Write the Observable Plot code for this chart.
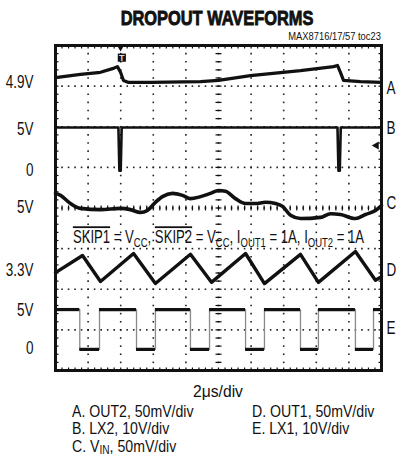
<!DOCTYPE html>
<html><head><meta charset="utf-8">
<script src="https://cdn.jsdelivr.net/npm/d3@7"></script>
<script src="https://cdn.jsdelivr.net/npm/@observablehq/plot@0.6"></script>
<style>
body{margin:0;background:#fff;font-family:"Liberation Sans",Arial,sans-serif;color:#111;}
#wrap{position:relative;width:402px;height:470px;overflow:hidden;background:#fff}
#chart{position:absolute;left:0;top:0}
.t{position:absolute;white-space:nowrap;line-height:1}
.sub{font-size:0.72em;position:relative;top:0.22em;line-height:0}
</style></head><body>
<div id="wrap">
  <div id="chart"></div>
  <div class="t" id="title" style="left:217px;top:7px;font-size:21px;font-weight:bold;transform:translateX(-50%) scaleX(0.78);-webkit-text-stroke:0.9px #111">DROPOUT WAVEFORMS</div>
  <div class="t" id="toc" style="right:21px;top:30.5px;font-size:11px;transform:scaleX(0.85);transform-origin:right center">MAX8716/17/57 toc23</div>
  <div class="t" id="xdiv" style="left:218px;top:382.5px;font-size:17px;transform:translateX(-50%) scaleX(0.92)">2μs/div</div>
  <div id="legend"></div>
</div>
<script>
// ---------- data (time in μs, level in screen divisions from bottom) ----------
const timeA = [0,1.53,2.76,3.50,3.80,3.99,4.17,4.48,5.83,8.90,10.0,11.96,15.03,17.06,17.30,17.48,17.67,18.71,20];
const levelA = [7.21,7.29,7.34,7.43,7.48,7.34,7.14,7.09,7.09,7.11,7.14,7.26,7.38,7.48,7.51,7.34,7.14,7.11,7.09];

const timeB = [0,3.86,3.92,4.00,4.06,17.30,17.36,17.44,17.50,20];
const levelB = [5.98,5.98,4.92,4.92,5.98,5.98,4.92,4.92,5.98,5.98];

const timeC = [0,0.31,0.92,1.53,2.76,3.99,4.60,5.21,5.64,6.13,6.56,7.18,7.79,8.28,8.90,9.51,10.0,10.43,11.04,11.66,12.27,12.88,13.50,13.93,14.42,15.03,16.26,16.87,17.48,18.40,19.02,19.63,20];
const levelC = [4.36,4.31,4.11,3.99,3.96,3.99,3.96,3.89,3.94,4.14,4.28,4.36,4.31,4.23,4.28,4.36,4.43,4.41,4.23,4.11,4.11,4.14,4.11,4.04,3.82,3.74,3.77,3.86,3.84,3.74,3.84,3.94,4.06];

const timeD = [0,1.66,2.76,4.79,6.13,8.28,9.57,11.66,12.82,15.03,16.13,18.40,19.63,20];
const levelD = [2.41,2.83,2.19,2.88,2.14,2.86,2.17,2.88,2.14,2.86,2.17,2.93,2.22,2.31];

const edgesE = [1.49,2.70,4.97,6.13,8.28,9.45,11.66,12.82,15.03,16.13,18.40,19.51];
const highE = 1.50, lowE = 0.52;

const leftLabels = ["4.9V","5V","0","5V","3.3V","5V","0"];
const leftLevels = [7.09,5.93,4.92,4.01,2.46,1.48,0.54];
const rightLabels = ["A","B","C","D","E"];
const rightLevels = [6.94,5.96,4.11,2.46,1.03];

const legendLeft = ["A. OUT2, 50mV/div","B. LX2, 10V/div","C. V<span class='sub'>IN</span>, 50mV/div"];
const legendRight = ["D. OUT1, 50mV/div","E. LX1, 10V/div"];

const triggerTime = 3.99, triggerLevel = 7.70, refMarkerLevel = 5.54;
const noteTime = 10, noteLevel = 3.27;

// ---------- build tables ----------
const zip = (ts, vs) => ts.map((t, i) => ({t, v: vs[i]}));
const A = zip(timeA, levelA), B = zip(timeB, levelB), C = zip(timeC, levelC), D = zip(timeD, levelD);
const Epts = [{t: 0, v: highE}];
const Esegs = [];
let cur = highE, prev = 0;
for (const e of edgesE) {
  Esegs.push({t1: prev, t2: e, v: cur});
  Epts.push({t: e, v: cur});
  cur = cur === highE ? lowE : highE;
  Epts.push({t: e, v: cur});
  prev = e;
}
Esegs.push({t1: prev, t2: 20, v: cur});
Epts.push({t: 20, v: cur});

const ink = "#111";
const gridT = d3.range(1, 10).map(i => i * 2);
const gridV = d3.range(1, 8);
const subT = d3.range(0, 51).map(i => +(i * 0.4).toFixed(2));
const subV = d3.range(0, 41).map(i => +(i * 0.2).toFixed(2));
const gridDots = [
  ...gridT.flatMap(t => subV.slice(1, -1).map(v => ({t, v}))),
  ...gridV.flatMap(v => subT.slice(1, -1).map(t => ({t, v})))
];

const seg = (x0, y0, x1, y1) => ({draw(ctx, size) { const r = Math.sqrt(size / Math.PI); ctx.moveTo(x0 * r, y0 * r); ctx.lineTo(x1 * r, y1 * r); }});
const hTick = seg(-1, 0, 1, 0), vTick = seg(0, -1, 0, 1);
const downTick = seg(0, 0, 0, 1), upTick = seg(0, 0, 0, -1), rightTick = seg(0, 0, 1, 0), leftTick = seg(0, 0, -1, 0);
const pixel = {draw(ctx) { ctx.rect(-0.8, -0.8, 1.6, 1.6); }};
const tickOpts = {x: "t", y: "v", fill: "none", stroke: ink, strokeWidth: 1.2};

const chart = Plot.plot({
  width: 402, height: 470,
  marginLeft: 55, marginRight: 21, marginTop: 45, marginBottom: 100,
  x: {domain: [0, 20], axis: null},
  y: {domain: [0, 8], axis: null},
  style: {background: "transparent", fontFamily: "Liberation Sans, Arial, sans-serif", overflow: "visible", color: ink},
  marks: [
    Plot.dot(gridDots, {x: "t", y: "v", symbol: pixel, r: 1, fill: "#222", stroke: "none"}),
    Plot.dot(subV.map(v => ({t: 10, v})), {...tickOpts, symbol: hTick, r: 3}),
    Plot.dot(subT.map(t => ({t, v: 4})), {...tickOpts, symbol: vTick, r: 2.5}),
    Plot.dot(subT.map(t => ({t, v: 8})), {...tickOpts, symbol: downTick, r: 3}),
    Plot.dot(subT.map(t => ({t, v: 0})), {...tickOpts, symbol: upTick, r: 3}),
    Plot.dot(subV.map(v => ({t: 0, v})), {...tickOpts, symbol: rightTick, r: 3}),
    Plot.dot(subV.map(v => ({t: 20, v})), {...tickOpts, symbol: leftTick, r: 3}),
    Plot.frame({stroke: ink, strokeWidth: 3}),
    // traces
    Plot.line(A, {x: "t", y: "v", stroke: ink, strokeWidth: 3.2, strokeLinejoin: "round"}),
    Plot.line(B, {x: "t", y: "v", stroke: ink, strokeWidth: 2.6, strokeLinejoin: "round"}),
    Plot.line(C, {x: "t", y: "v", stroke: ink, strokeWidth: 3.6, curve: "monotone-x"}),
    Plot.line(D, {x: "t", y: "v", stroke: ink, strokeWidth: 3.4, strokeLinejoin: "round"}),
    Plot.line(Epts, {x: "t", y: "v", stroke: "#8a8a8a", strokeWidth: 1.3}),
    Plot.ruleY(Esegs, {y: "v", x1: "t1", x2: "t2", stroke: ink, strokeWidth: 3.2}),
    // markers
    Plot.dot([{t: triggerTime, v: 7.97}], {x: "t", y: "v", symbol: "triangle", rotate: 180, r: 3, fill: ink, stroke: "none"}),
    Plot.dot([{t: triggerTime + 0.08, v: triggerLevel}], {x: "t", y: "v", symbol: "square", r: 4.6, fill: ink, stroke: "none"}),
    Plot.text([{t: triggerTime + 0.08, v: triggerLevel, s: "T"}], {x: "t", y: "v", text: "s", fill: "#ddd", fontSize: 9, fontWeight: "bold"}),
    Plot.dot([{t: 19.69, v: refMarkerLevel}], {x: "t", y: "v", symbol: "triangle", rotate: -90, r: 3, fill: ink, stroke: "none"}),
    // labels
    Plot.text(leftLabels.map((s, i) => ({s, v: leftLevels[i]})), {y: "v", text: "s", frameAnchor: "left", textAnchor: "end", dx: -22, fontSize: 18, fill: ink}),
    Plot.text(rightLabels.map((s, i) => ({s, v: rightLevels[i]})), {y: "v", text: "s", frameAnchor: "right", textAnchor: "start", dx: 5, fontSize: 18, fill: ink}),
    Plot.text([{t: noteTime, v: noteLevel, s: "NOTE"}], {x: "t", y: "v", text: "s", fontSize: 18, fill: ink, textAnchor: "middle"})
  ]
});
document.getElementById("chart").appendChild(chart);

// condense text horizontally (narrow typeface look)
const svg = d3.select(chart);
svg.selectAll("text").each(function() {
  const el = this;
  const isNote = el.textContent === "NOTE";
  const isT = el.textContent === "T";
  const s = isNote ? 0.73 : isT ? 1 : 0.75;
  const xa = el.getAttribute("x");
  const tx = xa !== null && !isNaN(+xa) ? +xa : 0;
  if (tx) el.removeAttribute("x");
  el.setAttribute("transform", `${el.getAttribute("transform") || ""} translate(${tx},0) scale(${s},1)`);
  if (isNote) {
    const t = d3.select(el); t.text("");
    const parts = [["SKIP1", "o"], [" = V", "n"], ["CC", "s"], [", ", "n"], ["SKIP2", "o"], [" = V", "n"], ["CC", "s"], [", I", "n"], ["OUT1", "s"], [" = 1A, I", "n"], ["OUT2", "s"], [" = 1A", "n"]];
    let shifted = false;
    for (const [txt, kind] of parts) {
      const sp = t.append("tspan").text(txt);
      if (kind === "s") { sp.attr("dy", shifted ? 0 : 4).attr("font-size", 13); shifted = true; }
      else { if (shifted) sp.attr("dy", -4); shifted = false; if (kind === "o") sp.style("text-decoration", "overline"); }
    }
  }
});

// legend (caption)
const lg = document.getElementById("legend");
const rowsTop = [403.5, 421, 438.5];
const addRow = (s, i, left) => {
  const d = document.createElement("div"); d.className = "t"; d.innerHTML = s;
  d.style.cssText = `left:${left}px;top:${rowsTop[i]}px;font-size:17px;line-height:15px;transform:scaleX(0.83);transform-origin:left center`;
  lg.appendChild(d);
};
legendLeft.forEach((s, i) => addRow(s, i, 72));
legendRight.forEach((s, i) => addRow(s, i, 252));
</script>
</body></html>
